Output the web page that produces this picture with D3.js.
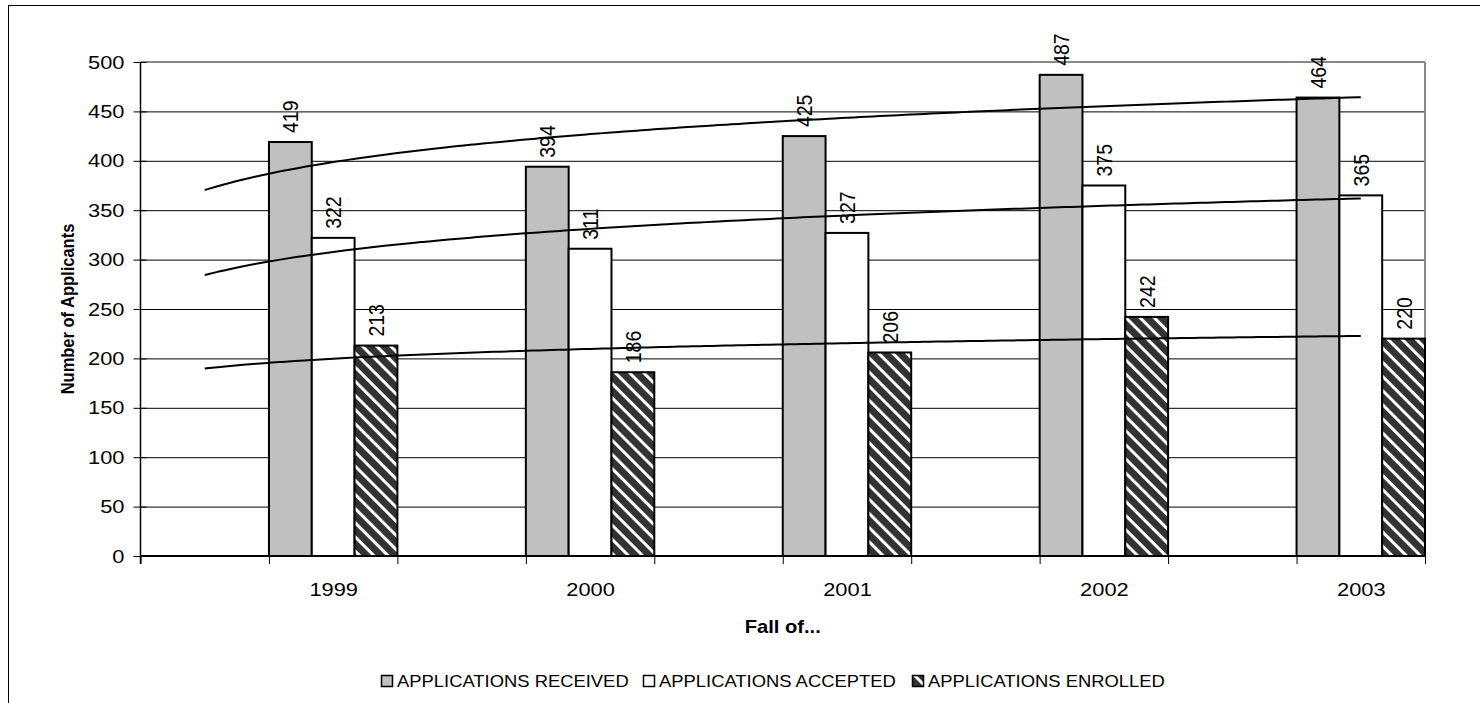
<!DOCTYPE html>
<html>
<head>
<meta charset="UTF-8">
<title>Number of Applicants</title>
<style>
  body {margin: 0; background: #fff;}
  text {font-family: "Liberation Sans", Arial, sans-serif; fill: #000;}
  .domain {display: none}
</style>
</head>
<body>
<div id="chart"></div>
<script src="https://d3js.org/d3.v7.min.js"></script>
<script>
const years = ["1999", "2000", "2001", "2002", "2003"];
const received = [419, 394, 425, 487, 464];
const accepted = [322, 311, 327, 375, 365];
const enrolled = [213, 186, 206, 242, 220];
const seriesNames = ["APPLICATIONS RECEIVED", "APPLICATIONS ACCEPTED", "APPLICATIONS ENROLLED"];
const yTicks = [0, 50, 100, 150, 200, 250, 300, 350, 400, 450, 500];

// the worksheet has an empty category before every year -> 10 slots on the axis
const slotCount = 10;
const slotOf = i => 2 * i + 2;

const W = 1480, H = 703;
const pLeft = 140.5, pRight = 1425, pTop = 62, pBottom = 556;
const SX = 1.15; // picture is stretched sideways

const svg = d3.select("#chart").append("svg").attr("width", W).attr("height", H);

const defs = svg.append("defs");
const pat = defs.append("pattern").attr("id", "hatch").attr("patternUnits", "userSpaceOnUse")
  .attr("width", 10).attr("height", 10).attr("patternTransform", "rotate(-45)");
pat.append("rect").attr("width", 10).attr("height", 10).attr("fill", "#333");
pat.append("rect").attr("width", 3).attr("height", 10).attr("fill", "#fff");

// outer chart border
svg.append("rect").attr("x", 8.5).attr("y", 5.5).attr("width", W).attr("height", H + 10)
  .attr("fill", "none").attr("stroke", "#000").attr("stroke-width", 1);

const x = d3.scaleLinear().domain([0.5, slotCount + 0.5]).range([pLeft, pRight]);
const y = d3.scaleLinear().domain([0, 500]).range([pBottom, pTop]);
const step = x(1) - x(0);
const sub = d3.scaleBand().domain(d3.range(3)).range([-step / 2, step / 2]);

// gridlines
svg.append("g").attr("transform", `translate(${pLeft},0)`)
  .call(d3.axisLeft(y).tickValues(yTicks.slice(1, -1)).tickSize(-(pRight - pLeft)).tickFormat(""))
  .selectAll("line").attr("stroke", "#000").attr("stroke-width", 1);

// plot border top / right
svg.append("line").attr("x1", pLeft).attr("x2", pRight).attr("y1", y(500)).attr("y2", y(500))
  .attr("stroke", "#888").attr("stroke-width", 2);
svg.append("line").attr("x1", pRight).attr("x2", pRight).attr("y1", y(500)).attr("y2", y(0))
  .attr("stroke", "#888").attr("stroke-width", 2);

// bars
const fills = ["#c0c0c0", "#ffffff", "url(#hatch)"];
const series = [received, accepted, enrolled];
const bars = [];
series.forEach((vals, s) => vals.forEach((v, i) => bars.push({s, i, v})));

svg.append("g").selectAll("rect").data(bars).join("rect")
  .attr("x", d => x(slotOf(d.i)) + sub(d.s))
  .attr("y", d => y(d.v))
  .attr("width", sub.bandwidth())
  .attr("height", d => y(0) - y(d.v))
  .attr("fill", d => fills[d.s])
  .attr("stroke", "#000").attr("stroke-width", 2);

// logarithmic trendlines (least squares on ln x), drawn from slot 1 to slot 10
const line = d3.line().x(d => x(d[0])).y(d => y(d[1])).curve(d3.curveBasis);
series.forEach(vals => {
  const xs = vals.map((v, i) => Math.log(slotOf(i)));
  const mx = d3.mean(xs), my = d3.mean(vals);
  const b = d3.sum(xs, (t, k) => (t - mx) * (vals[k] - my)) / d3.sum(xs, t => (t - mx) ** 2);
  const a = my - b * mx;
  const pts = d3.range(1, slotCount + 0.001, 0.1).map(t => [t, a + b * Math.log(t)]);
  svg.append("path").attr("d", line(pts)).attr("fill", "none")
    .attr("stroke", "#000").attr("stroke-width", 2);
});

// value labels
svg.append("g").selectAll("text").data(bars).join("text")
  .attr("transform", d => `translate(${x(slotOf(d.i)) + sub(d.s) + sub.bandwidth() / 2},${y(d.v) - 9}) scale(${SX},1) rotate(-90)`)
  .attr("dominant-baseline", "central")
  .attr("font-size", 19.5)
  .text(d => d.v);

// y axis
const yAx = svg.append("g").attr("transform", `translate(${pLeft},0)`)
  .call(d3.axisLeft(y).tickValues(yTicks).tickSize(7).tickPadding(8));
yAx.selectAll("line").attr("stroke", "#000").attr("x1", 6);
yAx.selectAll("text").attr("font-size", 19).attr("font-family", null)
  .attr("transform", `scale(${SX},1)`).attr("x", -16 / SX);
svg.append("line").attr("x1", pLeft).attr("x2", pLeft).attr("y1", pTop).attr("y2", pBottom + 8)
  .attr("stroke", "#000").attr("stroke-width", 1.5);

// x axis: tick marks between slots, year labels on the year slots
const xAx = svg.append("g").attr("transform", `translate(0,${pBottom})`)
  .call(d3.axisBottom(x).tickValues(d3.range(0.5, slotCount + 1, 1)).tickSize(8).tickFormat(""));
xAx.selectAll("line").attr("stroke", "#000");
svg.append("line").attr("x1", pLeft).attr("x2", pRight).attr("y1", pBottom).attr("y2", pBottom)
  .attr("stroke", "#000").attr("stroke-width", 2);

const xLab = svg.append("g").attr("transform", `translate(0,${pBottom})`)
  .call(d3.axisBottom(x).tickValues(years.map((t, i) => slotOf(i))).tickSize(0)
    .tickFormat((t, i) => years[i]));
xLab.selectAll("text").attr("font-size", 19).attr("font-family", null)
  .attr("y", 0).attr("dy", null)
  .attr("transform", `translate(0,40) scale(${SX},1)`);

// axis titles
svg.append("text").attr("transform", `translate(${(pLeft + pRight) / 2},633) scale(${SX},1)`)
  .attr("text-anchor", "middle").attr("font-size", 17.5).attr("font-weight", "bold").text("Fall of...");
svg.append("text").attr("transform", `translate(74,${(pTop + pBottom) / 2}) scale(${SX},1) rotate(-90)`)
  .attr("text-anchor", "middle").attr("font-size", 16.5).attr("font-weight", "bold").text("Number of Applicants");

// legend
const legend = svg.append("g").attr("transform", "translate(381,675)");
const lx = [0, 262, 531];
seriesNames.forEach((name, s) => {
  const g = legend.append("g").attr("transform", `translate(${lx[s]},0)`);
  g.append("rect").attr("x", 0.5).attr("y", 0.5).attr("width", 11).attr("height", 11)
    .attr("fill", fills[s]).attr("stroke", "#000").attr("stroke-width", 1.5);
  g.append("text").attr("transform", `translate(16,12) scale(${SX},1)`)
    .attr("font-size", 16).text(name);
});
</script>
</body>
</html>
